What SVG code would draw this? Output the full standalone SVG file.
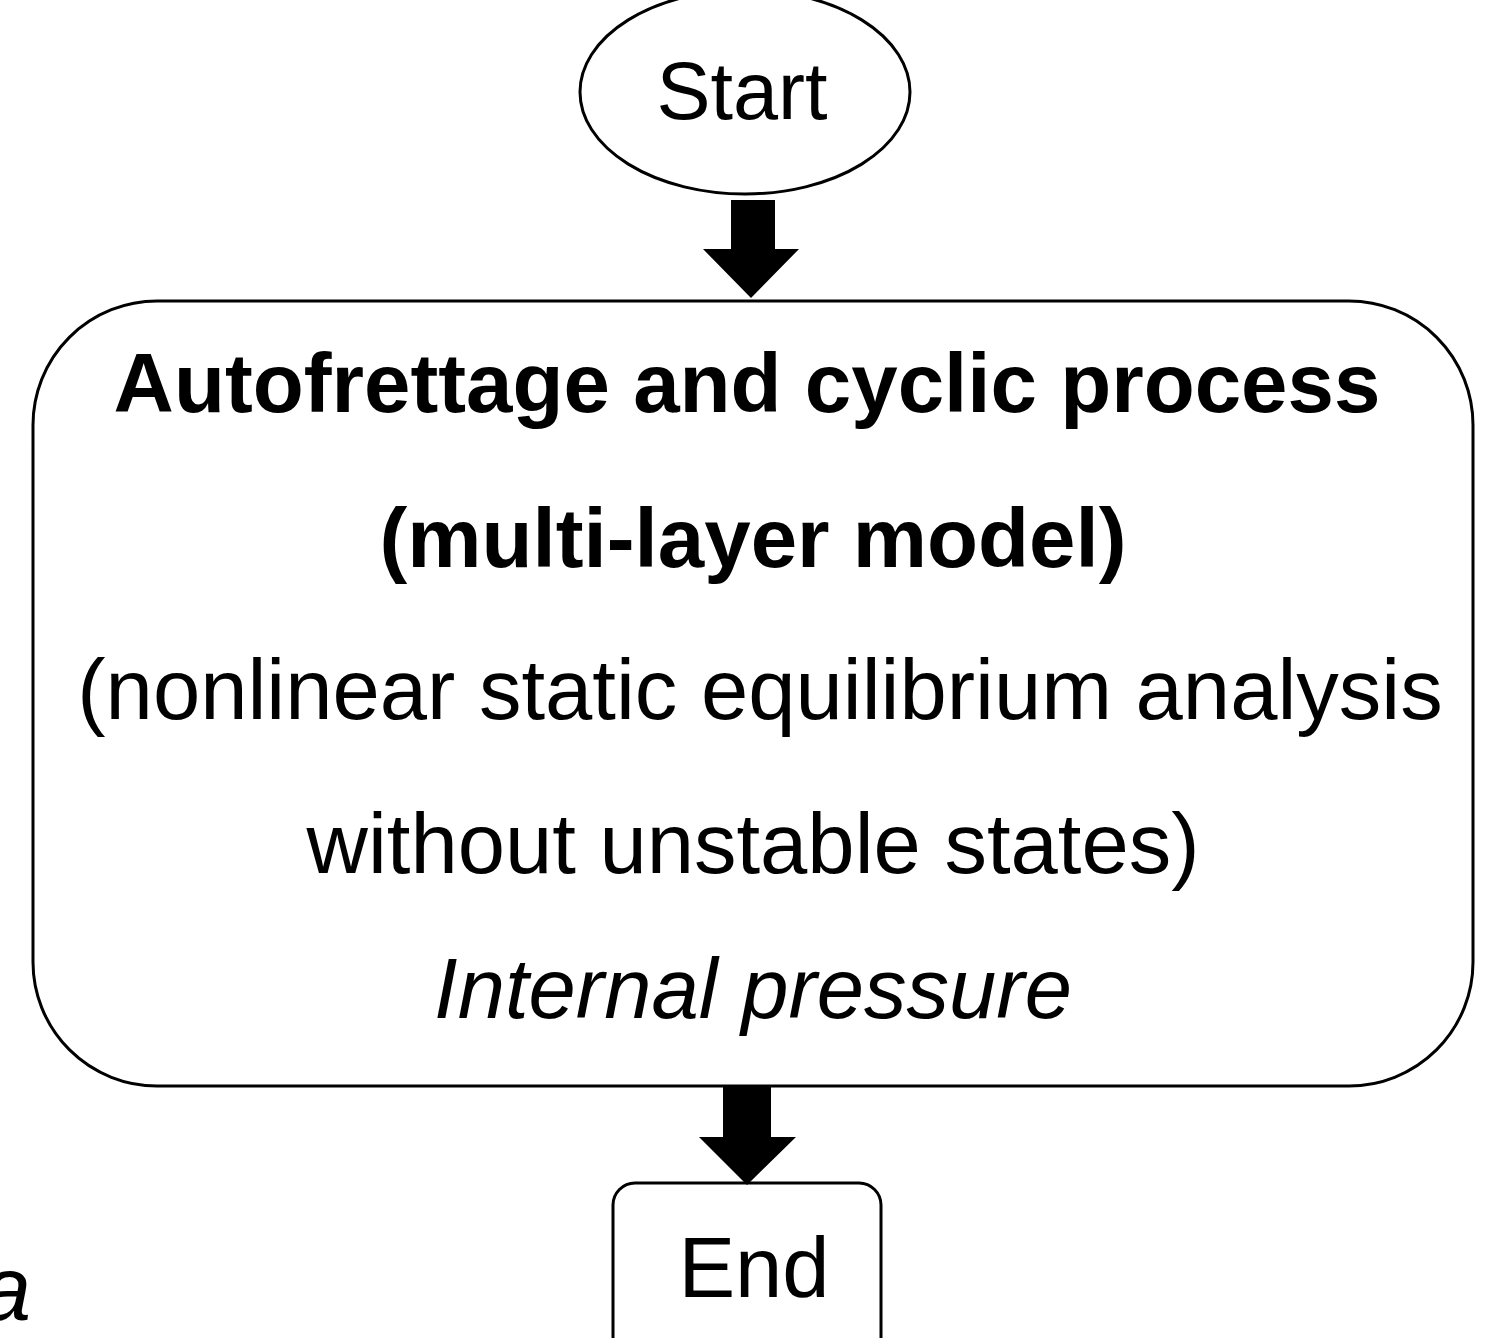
<svg xmlns="http://www.w3.org/2000/svg" width="1498" height="1338" viewBox="0 0 1498 1338">
<style>
.shape{fill:#fff;stroke:#000;stroke-width:3}
.t{font-family:"Liberation Sans",Arial,sans-serif;fill:#000;text-anchor:middle}
.b{font-weight:bold;font-size:83.5px}
.r{font-size:85px}
.i{font-style:italic}
.arrow{fill:#000;stroke:none}
</style>
<rect width="1498" height="1338" fill="#fff"/>
<g id="start">
<ellipse class="shape" cx="745" cy="92" rx="165" ry="102"/>
<text class="t" x="742" y="119" font-size="81">Start</text>
</g>
<g id="process">
<rect class="shape" x="33" y="301" width="1440" height="785" rx="124" ry="124"/>
<text class="t b" x="747" y="412">Autofrettage and cyclic process</text>
<text class="t b" x="753" y="567">(multi-layer model)</text>
<text class="t r" x="760" y="719">(nonlinear static equilibrium analysis</text>
<text class="t r" x="753" y="873">without unstable states)</text>
<text class="t r i" x="753" y="1018">Internal pressure</text>
</g>
<g id="end">
<rect class="shape" x="613" y="1183" width="268" height="200" rx="22" ry="22"/>
<text class="t" x="754" y="1297" font-size="85">End</text>
</g>
<g id="label-a">
<text class="t i" x="6" y="1320" font-size="90">a</text>
</g>
<g id="connectors">
<polygon class="arrow" points="731,200 775,200 775,249 799,249 751,298 703,249 731,249"/>
<polygon class="arrow" points="723,1087 771,1087 771,1137 796,1137 747,1185 699,1137 723,1137"/>
</g>
</svg>
